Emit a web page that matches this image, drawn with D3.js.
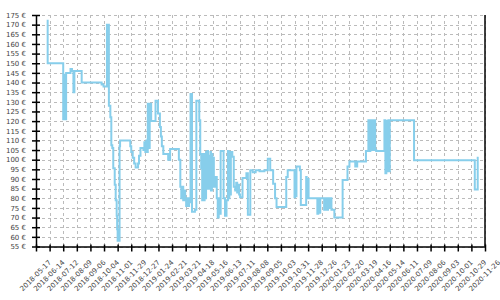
<!DOCTYPE html>
<html>
<head>
<meta charset="utf-8">
<script src="https://cdn.jsdelivr.net/npm/d3@7"></script>
<style>
  body { margin: 0; background: #fff; }
  text { font-family: "DejaVu Sans", sans-serif; }
</style>
</head>
<body>
<div id="chart"></div>
<script>
// price history (date, price in €)
var priceHistory = [
  ["2018-06-08",172],["2018-06-10",150],["2018-07-12",121],["2018-07-14",144],["2018-07-16",121],
  ["2018-07-18",145],["2018-07-27",147],["2018-07-30",146],["2018-08-02",135],["2018-08-04",146],
  ["2018-08-19",140],["2018-09-29",139],["2018-10-03",138],["2018-10-10",170],["2018-10-14",128],
  ["2018-10-17",122],["2018-10-19",107.5],["2018-10-21",106],["2018-10-23",95.5],["2018-10-26",87],
  ["2018-10-28",79],["2018-10-30",71],["2018-10-31",64],["2018-11-01",58],["2018-11-05",107],
  ["2018-11-06",110],["2018-11-27",107],["2018-11-29",104],["2018-12-02",101],["2018-12-05",98],
  ["2018-12-08",96],["2018-12-13",98],["2018-12-15",102],["2018-12-18",106],["2018-12-24",105],
  ["2018-12-26",109],["2018-12-28",104],["2018-12-30",110],["2019-01-01",104],["2019-01-02",129],
  ["2019-01-04",106],["2019-01-06",129],["2019-01-09",120],["2019-01-18",130.5],["2019-01-23",124],
  ["2019-01-27",117],["2019-01-29",112],["2019-01-31",107],["2019-02-03",103],["2019-02-13",100],
  ["2019-02-17",105.5],["2019-03-07",100],["2019-03-10",86],["2019-03-12",80],["2019-03-14",86],
  ["2019-03-16",79],["2019-03-18",84],["2019-03-20",79],["2019-03-22",76],["2019-03-24",80],
  ["2019-03-26",76],["2019-03-28",80],["2019-03-30",78],["2019-03-31",134],["2019-04-03",73],
  ["2019-04-09",74],["2019-04-12",130.5],["2019-04-18",120.5],["2019-04-20",103],["2019-04-22",95.5],
  ["2019-04-24",79],["2019-04-26",103],["2019-04-27",79],["2019-04-29",103],["2019-04-30",80],
  ["2019-05-02",104],["2019-05-03",88],["2019-05-05",104.5],["2019-05-06",85],["2019-05-08",102],
  ["2019-05-09",88],["2019-05-11",104],["2019-05-12",84],["2019-05-14",103],["2019-05-15",90],
  ["2019-05-17",101],["2019-05-18",86],["2019-05-20",91],["2019-05-24",80],["2019-05-26",70],
  ["2019-05-28",80],["2019-05-30",72],["2019-06-01",104.5],["2019-06-07",80],["2019-06-10",71],
  ["2019-06-13",79],["2019-06-16",104.5],["2019-06-17",80],["2019-06-19",104],["2019-06-20",82],
  ["2019-06-22",104],["2019-06-25",101.5],["2019-06-28",86],["2019-07-01",84],["2019-07-03",88],
  ["2019-07-05",83],["2019-07-07",87],["2019-07-09",82],["2019-07-11",80.5],["2019-07-16",90.5],
  ["2019-07-24",93],["2019-07-27",71.5],["2019-08-01",94.5],["2019-08-06",93.5],["2019-08-12",94.5],
  ["2019-08-20",94],["2019-08-30",94.5],["2019-09-06",100.5],["2019-09-11",94.5],["2019-09-17",87.5],
  ["2019-09-21",80],["2019-09-24",75.5],["2019-10-14",91],["2019-10-17",94.5],["2019-10-31",80.5],
  ["2019-11-01",94.5],["2019-11-02",81],["2019-11-04",96.5],["2019-11-11",94.5],["2019-11-13",76.5],
  ["2019-11-24",91],["2019-11-25",80],["2019-11-27",90],["2019-11-29",80],["2019-12-17",72],
  ["2019-12-19",80],["2019-12-21",72.5],["2019-12-23",80],["2019-12-31",74],["2020-01-02",80],
  ["2020-01-05",74],["2020-01-08",80],["2020-01-10",75],["2020-01-13",80],["2020-01-15",74],
  ["2020-01-21",70],["2020-02-07",89.5],["2020-02-17",96.5],["2020-02-21",99],["2020-03-04",96.5],
  ["2020-03-08",99],["2020-03-26",104.5],["2020-03-31",120.5],["2020-04-02",104.5],["2020-04-04",120.5],
  ["2020-04-06",105],["2020-04-08",120.5],["2020-04-10",105],["2020-04-12",120.5],["2020-04-14",105],
  ["2020-04-16",104.5],["2020-05-03",120.5],["2020-05-05",93],["2020-05-07",120],["2020-05-09",94],
  ["2020-05-11",120.5],["2020-05-13",94],["2020-05-14",120.5],["2020-07-03",99.7],["2020-11-05",84.5],
  ["2020-11-11",101.5]
];

// x tick labels, every 4 weeks
var xTickLabels = [
  "2018-05-17","2018-06-14","2018-07-12","2018-08-09","2018-09-06","2018-10-04","2018-11-01",
  "2018-11-29","2018-12-27","2019-01-24","2019-02-21","2019-03-21","2019-04-18","2019-05-16",
  "2019-06-13","2019-07-11","2019-08-08","2019-09-05","2019-10-03","2019-10-31","2019-11-28",
  "2019-12-26","2020-01-23","2020-02-20","2020-03-19","2020-04-16","2020-05-14","2020-06-11",
  "2020-07-09","2020-08-06","2020-09-03","2020-10-01","2020-10-29","2020-11-26"
];

var yTicks = [55,60,65,70,75,80,85,90,95,100,105,110,115,120,125,130,135,140,145,150,155,160,165,170,175];

var svg_dx = 500,
  svg_dy = 300,
  plotLeft = 36,
  plotRight = 485,
  plotTop = 15,
  plotBottom = 246.5;

var parse = d3.utcParse("%Y-%m-%d");

var data = priceHistory.map(d => ({ date: parse(d[0]), price: d[1] }));
var tickDates = xTickLabels.map(parse);

var x = d3.scaleUtc()
  .domain([tickDates[0], tickDates[tickDates.length - 1]])
  .range([plotLeft, plotRight]);

var y = d3.scaleLinear()
  .domain([55, 175])
  .range([plotBottom, plotTop]);

var svg = d3.select("#chart")
  .append("svg")
  .attr("width", svg_dx)
  .attr("height", svg_dy);

// dashed grid
var grid = svg.append("g")
  .attr("stroke", "#bbb")
  .attr("stroke-dasharray", "3,3")
  .attr("stroke-width", 1);

grid.selectAll("line.h")
  .data(yTicks)
  .enter()
  .append("line")
  .attr("class", "h")
  .attr("x1", plotLeft)
  .attr("x2", plotRight)
  .attr("y1", d => Math.round(y(d)) + 0.5)
  .attr("y2", d => Math.round(y(d)) + 0.5);

grid.selectAll("line.v")
  .data(tickDates)
  .enter()
  .append("line")
  .attr("class", "v")
  .attr("x1", d => Math.round(x(d)) + 0.5)
  .attr("x2", d => Math.round(x(d)) + 0.5)
  .attr("y1", plotTop)
  .attr("y2", plotBottom);

// the price line
var valueline = d3.line()
  .curve(d3.curveStepAfter)
  .x(d => x(d.date))
  .y(d => y(d.price));

svg.append("path")
  .datum(data)
  .attr("fill", "none")
  .attr("stroke", "#87ceeb")
  .attr("stroke-width", 2)
  .attr("d", valueline);

// axes
var yAxis = d3.axisLeft(y)
  .tickValues(yTicks)
  .tickFormat(d => d + " €")
  .tickSize(4)
  .tickPadding(6)
  .tickSizeOuter(0);

var gy = svg.append("g")
  .attr("transform", "translate(" + plotLeft + ",0)")
  .call(yAxis);

gy.selectAll(".tick line").attr("x1", 4).attr("x2", -4).attr("stroke-width", 1.5);

var xAxis = d3.axisBottom(x)
  .tickValues(tickDates)
  .tickFormat(d3.utcFormat("%Y-%m-%d"))
  .tickSize(5)
  .tickSizeOuter(0);

var gx = svg.append("g")
  .attr("transform", "translate(0," + plotBottom + ")")
  .call(xAxis);

gx.selectAll(".tick line").attr("y1", -2).attr("stroke-width", 1.5);

gx.selectAll(".tick text")
  .attr("x", 0)
  .attr("y", 0)
  .attr("dy", "0.35em")
  .attr("text-anchor", "middle")
  .attr("transform", "translate(-1,29) rotate(-45)");

svg.selectAll(".domain").attr("stroke", "#000").attr("stroke-width", 1.5);
svg.selectAll(".tick text").attr("fill", "#444").attr("font-size", "7px")
  .attr("font-family", "'DejaVu Sans', sans-serif");

// right border
svg.append("line")
  .attr("x1", plotRight)
  .attr("x2", plotRight)
  .attr("y1", plotTop)
  .attr("y2", plotBottom)
  .attr("stroke", "#000")
  .attr("stroke-width", 1.5);
</script>
</body>
</html>
